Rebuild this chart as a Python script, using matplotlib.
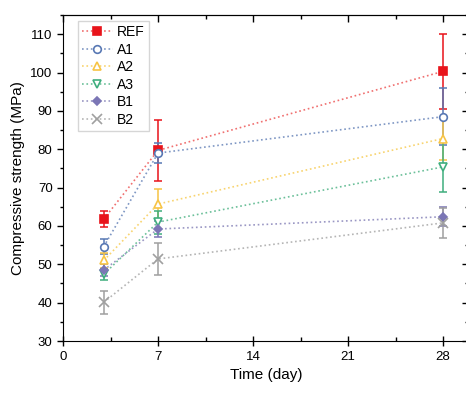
import numpy as np
import matplotlib
matplotlib.use("Agg")
import matplotlib.pyplot as plt
from matplotlib.ticker import MultipleLocator, NullFormatter

plt.rcParams['font.family'] = ['Liberation Sans', 'DejaVu Sans']
plt.rcParams['savefig.bbox'] = 'standard'

# Data
days = [3, 7, 28]
series_names = ['REF', 'A1', 'A2', 'A3', 'B1', 'B2']
ref_mean = [61.8, 79.7, 100.3]
ref_err = [2.0, 8.0, 9.7]
a1_mean = [54.6, 79.0, 88.5]
a1_err = [2.0, 2.5, 7.5]
a2_mean = [51.0, 65.7, 82.8]
a2_err = [2.0, 4.0, 5.7]
a3_mean = [47.4, 61.0, 75.4]
a3_err = [1.5, 3.0, 6.5]
b1_mean = [48.5, 59.2, 62.4]
b1_err = [1.5, 2.0, 2.5]
b2_mean = [40.1, 51.4, 60.8]
b2_err = [3.0, 4.2, 4.0]

means = [ref_mean, a1_mean, a2_mean, a3_mean, b1_mean, b2_mean]
errs = [ref_err, a1_err, a2_err, a3_err, b1_err, b2_err]

# style per series
colors = ['#e8141b', '#5878b4', '#f7c445', '#3fae7e', '#7b76b5', '#a0a0a0']
line_colors = ['#f07070', '#7f97c4', '#f8d470', '#6cc09a', '#9a97c4', '#b5b5b5']
markers = ['s', 'o', '^', 'v', 'D', 'x']
sizes = [5.5, 5.5, 6, 6, 4.5, 6.5]
fills = ['full', 'none', 'none', 'none', 'full', 'full']


def make_plot():
    fig = plt.figure(figsize=(4.66, 3.93), dpi=100)
    ax = fig.add_axes([0.1352, 0.1323, 0.871, 0.8295])

    for name, m, e, c, lc, mk, ms, fs in zip(series_names, means, errs, colors,
                                              line_colors, markers, sizes, fills):
        ax.plot(days, m, linestyle=':', color=lc, linewidth=1.2, zorder=2)
        ax.errorbar(days, m, yerr=e, fmt='none', ecolor=c, elinewidth=1.3,
                    capsize=3, capthick=1.3, alpha=0.85, zorder=3)
        mfc = c if fs == 'full' else 'white'
        ax.plot(days, m, linestyle='none', marker=mk, markersize=ms,
                markerfacecolor=mfc, markeredgecolor=c, markeredgewidth=1.2,
                zorder=4)
        # legend proxy
        ax.plot([], [], linestyle=':', color=lc, linewidth=1.2, marker=mk,
                markersize=ms, markerfacecolor=mfc, markeredgecolor=c,
                markeredgewidth=1.2, label=name)

    ax.set_xlim(0, 29.9)
    ax.set_ylim(30, 115)
    ax.xaxis.set_major_locator(MultipleLocator(7))
    ax.xaxis.set_minor_locator(MultipleLocator(3.5))
    ax.yaxis.set_major_locator(MultipleLocator(10))
    ax.yaxis.set_minor_locator(MultipleLocator(5))
    ax.tick_params(axis='x', which='major', direction='inout', length=7, width=1,
                   labelsize=9.5)
    ax.tick_params(axis='x', which='minor', direction='in', length=3, width=1)
    ax.tick_params(axis='y', which='major', direction='out', length=4, width=1,
                   labelsize=9.5)
    ax.tick_params(axis='y', which='minor', direction='out', length=2.5, width=1)

    # mirrored ticks on top and right, pointing inward
    top = ax.secondary_xaxis('top')
    top.xaxis.set_major_locator(MultipleLocator(7))
    top.xaxis.set_minor_locator(MultipleLocator(3.5))
    top.xaxis.set_major_formatter(NullFormatter())
    top.tick_params(which='major', direction='in', length=5, width=1)
    top.tick_params(which='minor', direction='in', length=3, width=1)
    right = ax.secondary_yaxis('right')
    right.yaxis.set_major_locator(MultipleLocator(10))
    right.yaxis.set_minor_locator(MultipleLocator(5))
    right.yaxis.set_major_formatter(NullFormatter())
    right.tick_params(which='major', direction='in', length=5, width=1)
    right.tick_params(which='minor', direction='in', length=3, width=1)

    ax.set_xlabel('Time (day)', fontsize=11)
    ax.set_ylabel('Compressive strength (MPa)', fontsize=11)

    ax.legend(loc='upper left', bbox_to_anchor=(0.03, 0.99), fontsize=10,
              frameon=True, fancybox=False, edgecolor='#cccccc',
              handlelength=2.2, handletextpad=0.3, labelspacing=0.25,
              borderpad=0.3, borderaxespad=0.2)

    fig.savefig('out.png', dpi=100)


if __name__ == "__main__":
    make_plot()
